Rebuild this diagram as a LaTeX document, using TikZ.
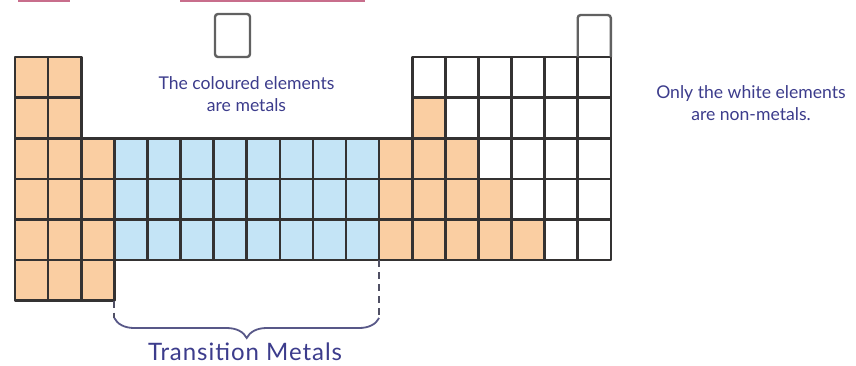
\documentclass[tikz,border=0pt]{standalone}
\usepackage{fontspec}
\setmainfont{Lato}
\usetikzlibrary{decorations.pathreplacing}

\definecolor{metalfill}{RGB}{250,206,162}
\definecolor{tmfill}{RGB}{196,228,246}
\definecolor{gridcol}{RGB}{52,50,50}
\definecolor{inkblue}{RGB}{60,60,140}
\definecolor{bracecol}{RGB}{88,88,136}
\definecolor{dashcol}{RGB}{80,80,100}
\definecolor{marker}{RGB}{200,110,140}

\tikzset{
  gridline/.style={draw=gridcol, line width=2.6pt, line join=round},
  boxline/.style={draw=black!62, line width=2.4pt, rounded corners=3pt},
  dashln/.style={draw=dashcol, line width=1.8pt, dash pattern=on 7pt off 5pt},
  bracestyle/.style={draw=bracecol, line width=1.8pt, decorate,
    decoration={brace, amplitude=20pt}},
  notetext/.style={text=inkblue, font=\fontsize{17.6}{22}\selectfont, align=center, inner sep=0pt},
  grouptext/.style={text=inkblue, font=\fontsize{24}{28}\selectfont\addfontfeatures{LetterSpace=4}, inner sep=0pt},
  markline/.style={draw=marker, line width=2pt},
}

\begin{document}
\begin{tikzpicture}[x=1pt, y=-1pt]
\useasboundingbox (0,0) rectangle (856,365);
\fill[white] (0,0) rectangle (856,365);

% cell size and origin of the grid
\def\cw{33.1}\def\rh{40.6}\def\xo{15}\def\yo{57}

% highlight strokes of the heading line above
\draw[markline] (18,1.2) -- (70,1.2);
\draw[markline] (180,1.2) -- (365,1.2);

% metal cells (orange)
\foreach \r/\a/\b in {1/1/2, 2/1/2, 3/1/3, 4/1/3, 5/1/3, 6/1/3,
                      2/13/13, 3/12/14, 4/12/15, 5/12/16}
  \foreach \c in {\a,...,\b}
    \fill[metalfill] ({\xo+(\c-1)*\cw},{\yo+(\r-1)*\rh}) rectangle ++(\cw,\rh);

% transition metal cells (blue)
\foreach \r in {3,4,5}
  \foreach \c in {4,...,11}
    \fill[tmfill] ({\xo+(\c-1)*\cw},{\yo+(\r-1)*\rh}) rectangle ++(\cw,\rh);

% all cell borders as one path
\draw[gridline]
  foreach \r/\a/\b in {1/1/2, 2/1/2, 3/1/18, 4/1/18, 5/1/18, 6/1/3, 1/13/18, 2/13/18}
  { foreach \c in {\a,...,\b}
    { ({\xo+(\c-1)*\cw},{\yo+(\r-1)*\rh}) rectangle ++(\cw,\rh) } };

% hydrogen and helium boxes
\node[boxline, minimum width=35pt, minimum height=43pt, inner sep=0pt] (hydrogen) at (232.5,35.5) {};
\draw[boxline] ({\xo+17*\cw},\yo) -- ({\xo+17*\cw},15) -- ({\xo+18*\cw},15) -- ({\xo+18*\cw},\yo);

% transition metal bracket
\coordinate (tmBL) at ({\xo+3*\cw},{\yo+6*\rh});
\coordinate (tmBR) at ({\xo+11*\cw},{\yo+5*\rh});
\coordinate (braceL) at ({\xo+3*\cw},318);
\coordinate (braceR) at ({\xo+11*\cw},318);
\draw[dashln] (tmBL) -- (braceL);
\draw[dashln] (tmBR) -- (braceR);
\draw[bracestyle] (braceR) -- (braceL);

% labels
\node[notetext, anchor=north] (metals) at (246.5,76) {The coloured elements\\are metals};
\node[notetext, anchor=north] (nonmetals) at (751,85) {Only the white elements\\are non-metals.};
\node[grouptext] (tmlabel) at (245,352) {Transition Metals};
\end{tikzpicture}
\end{document}
